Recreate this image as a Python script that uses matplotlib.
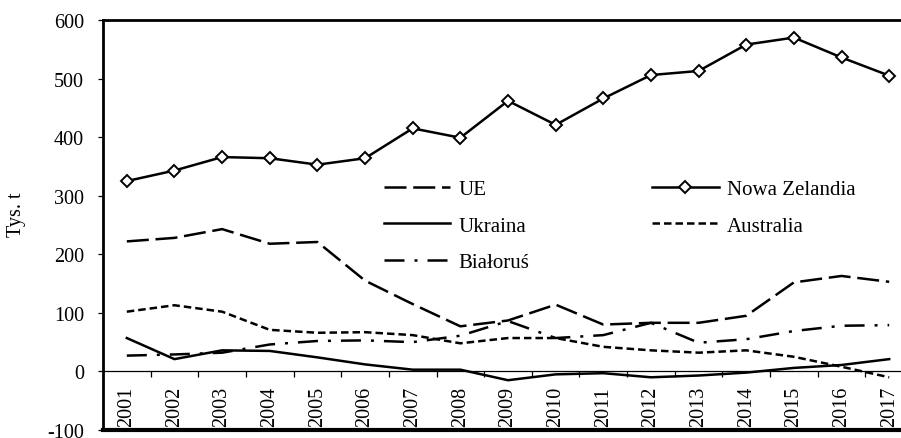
import matplotlib
matplotlib.use("Agg")
import matplotlib.pyplot as plt
import numpy as np

plt.rcParams['font.family'] = ['Liberation Serif', 'DejaVu Serif']
plt.rcParams['axes.unicode_minus'] = False

years = [str(y) for y in range(2001, 2018)]
ue = [222, 228, 243, 218, 221, 155, 115, 77, 87, 114, 80, 83, 83, 95, 152, 163, 153]
nowa_zelandia = [325, 343, 366, 364, 353, 364, 415, 399, 462, 421, 466, 506, 513, 558, 570, 536, 505]
ukraina = [57, 21, 36, 35, 24, 12, 3, 3, -15, -5, -3, -10, -7, -2, 6, 11, 21]
australia = [102, 113, 102, 71, 66, 67, 62, 48, 57, 57, 42, 36, 32, 36, 25, 8, -10]
bialorus = [27, 29, 32, 46, 52, 53, 50, 61, 86, 57, 62, 83, 49, 55, 69, 78, 79]

W, H = 901, 439
fig = plt.figure(figsize=(W / 100, H / 100), dpi=100)
ax = fig.add_axes([103 / W, (H - 431) / H, 810 / W, 410 / H])

x = np.arange(len(years))
lw = 1.8
l_ue, = ax.plot(x, ue, color='black', lw=lw, linestyle=(0, (8.8, 2.7)), label='UE')
l_uk, = ax.plot(x, ukraina, color='black', lw=lw, linestyle='-', label='Ukraina')
l_by, = ax.plot(x, bialorus, color='black', lw=lw, linestyle=(0, (8, 4, 1.2, 4)), label='Białoruś')
l_nz, = ax.plot(x, nowa_zelandia, color='black', lw=lw, linestyle='-', marker='D',
                markersize=6, markerfacecolor='white', markeredgecolor='black',
                markeredgewidth=1.4, label='Nowa Zelandia')
l_au, = ax.plot(x, australia, color='black', lw=lw, linestyle=(0, (3, 1.6)), label='Australia')

ax.set_xlim(-0.5, len(years) - 0.5)
ax.set_ylim(-100, 600)
ax.set_yticks(range(-100, 601, 100))

# spines
for s in ['left', 'top', 'right']:
    ax.spines[s].set_linewidth(2)
ax.spines['bottom'].set_position(('data', 0))
ax.spines['bottom'].set_linewidth(0.9)
ax.axhline(-100, color='black', lw=3, clip_on=False, zorder=5)

ax.set_xticks(x)
ax.set_xticklabels(years, rotation=90, fontsize=14.5)
ax.set_xticks(np.arange(0.5, len(years) - 0.5, 1), minor=True)
ax.tick_params(axis='x', which='major', length=0, pad=10.5)
ax.tick_params(axis='x', which='minor', length=4.3, width=0.9, direction='out')
ax.tick_params(axis='y', length=3.6, width=0.9, direction='out', pad=10, labelsize=14.5)

fig.text(16 / W, 1 - 215 / H, 'Tys. t', rotation=90, ha='center', va='center', fontsize=14.5)

leg = ax.legend(handles=[l_ue, l_uk, l_by, l_nz, l_au], ncol=2, frameon=False,
                fontsize=15, handlelength=3.2, handletextpad=0.38, columnspacing=5.9,
                labelspacing=0.8, loc='upper left',
                bbox_to_anchor=(365 / W, 1 - 162 / H), bbox_transform=fig.transFigure,
                borderpad=0.4)

fig.savefig('out.png', dpi=100)
